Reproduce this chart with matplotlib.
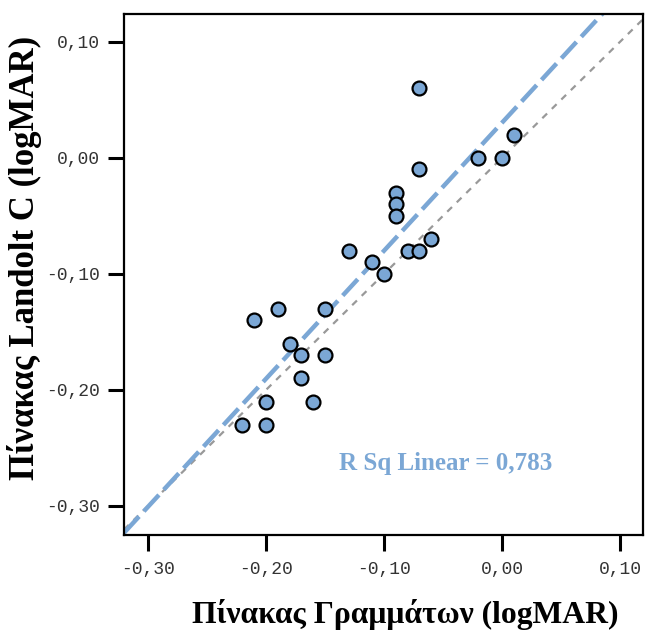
import numpy as np
import matplotlib
matplotlib.use("Agg")
import matplotlib.pyplot as plt

# Data (logMAR)
letter_chart = [-0.07, 0.01, -0.02, 0.00, -0.07, -0.09, -0.09, -0.09, -0.06, -0.13,
                -0.08, -0.07, -0.11, -0.10, -0.19, -0.15, -0.21, -0.18, -0.17, -0.15,
                -0.17, -0.20, -0.16, -0.22, -0.20]
landolt_c = [0.06, 0.02, 0.00, 0.00, -0.01, -0.03, -0.04, -0.05, -0.07, -0.08,
             -0.08, -0.08, -0.09, -0.10, -0.13, -0.13, -0.14, -0.16, -0.17, -0.17,
             -0.19, -0.21, -0.21, -0.23, -0.23]
tick_values = [-0.30, -0.20, -0.10, 0.00, 0.10]
tick_labels = ["-0,30", "-0,20", "-0,10", "0,00", "0,10"]
r2_text = "R Sq Linear = 0,783"

blue = "#7BA7D5"

fig = plt.figure(figsize=(6.45, 6.31), dpi=100)
ax = fig.add_axes([124/645, 1-535/631, (643-124)/645, (535-14)/631])

xlim = (-0.3203, 0.1195)
ylim = (-0.325, 0.124)
ax.set_xlim(*xlim)
ax.set_ylim(*ylim)

x = np.array(letter_chart)
y = np.array(landolt_c)
slope, intercept = np.polyfit(x, y, 1)
xs = np.array(xlim)

# identity reference line
ax.plot(xs, xs, color="#999999", lw=1.6, dashes=(3, 3), zorder=1)
# fit line
ax.plot(xs, slope*xs + intercept, color=blue, lw=3.2, dashes=(5, 1.6), zorder=2)

ax.plot(x, y, 'o', ms=10, mfc=blue, mec="black", mew=1.6, zorder=3, ls='none')

ax.text(-0.0475, -0.2638, r2_text, color=blue, fontsize=18, fontweight='bold',
        family='Liberation Serif', ha='center', va='center')

ax.set_xticks(tick_values)
ax.set_xticklabels(tick_labels)
ax.set_yticks(tick_values)
ax.set_yticklabels(tick_labels)
for lab in ax.get_xticklabels() + ax.get_yticklabels():
    lab.set_family('Liberation Mono')
    lab.set_fontsize(13)
    lab.set_color('#333333')
ax.tick_params(axis='both', length=11.5, width=2.2, direction='out')
ax.tick_params(axis='x', pad=7)
ax.tick_params(axis='y', pad=6)
for s in ax.spines.values():
    s.set_linewidth(1.6)

ax.set_xlabel("Πίνακας Γραμμάτων (logMAR)", family='Liberation Serif',
              fontweight='bold', fontsize=22.8)
ax.xaxis.set_label_coords(405/645, 1-623/631, transform=fig.transFigure)
ax.xaxis.label.set_va('baseline')
ax.set_ylabel("Πίνακας Landolt C (logMAR)", family='Liberation Serif',
              fontweight='bold', fontsize=25)
ax.yaxis.set_label_coords(25/645, 1-257.5/631, transform=fig.transFigure)
ax.yaxis.label.set_va('center')
ax.yaxis.label.set_rotation_mode('default')

fig.savefig("out.png", dpi=100)
